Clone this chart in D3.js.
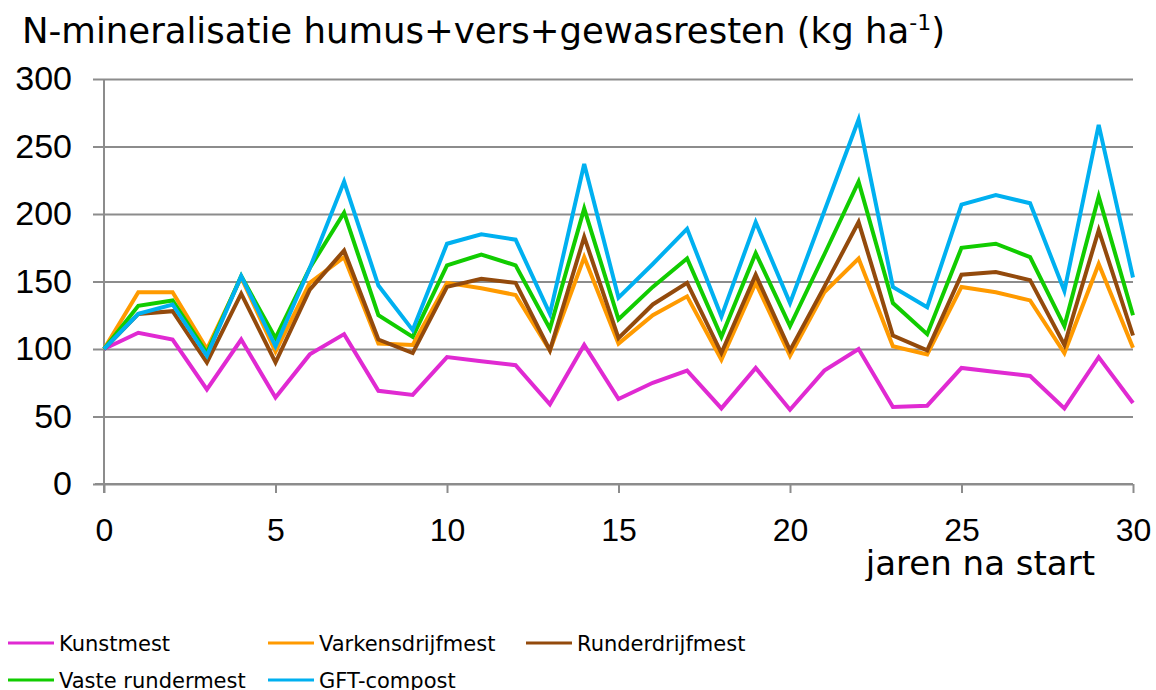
<!DOCTYPE html>
<html>
<head>
<meta charset="utf-8">
<script src="https://d3js.org/d3.v7.min.js"></script>
<style>
  body { margin: 0; background: #fff; }
  svg { font-family: "DejaVu Sans", Verdana, sans-serif; }
</style>
</head>
<body>
<div id="chart"></div>
<script>
var years = d3.range(0, 31);

var kunstmest = [100, 112, 107, 70, 107, 64, 96, 111, 69, 66, 94, 91, 88, 59, 103, 63, 75, 84, 56, 86, 55, 84, 100, 57, 58, 86, 83, 80, 56, 94, 60];
var varkensdrijfmest = [100, 142, 142, 100, 153, 98, 149, 168, 104, 103, 149, 145, 140, 99, 168, 104, 125, 139, 92, 149, 95, 142, 167, 102, 96, 146, 142, 136, 97, 163, 101];
var runderdrijfmest = [100, 126, 128, 90, 141, 90, 144, 173, 107, 97, 146, 152, 149, 99, 183, 108, 133, 149, 97, 155, 99, 146, 194, 110, 99, 155, 157, 151, 103, 188, 110];
var vasteRundermest = [100, 132, 136, 97, 154, 108, 160, 201, 125, 109, 162, 170, 162, 115, 204, 122, 146, 167, 109, 171, 117, 170, 224, 134, 111, 175, 178, 168, 117, 213, 125];
var gftCompost = [100, 126, 133, 95, 154, 102, 160, 224, 147, 114, 178, 185, 181, 126, 237, 138, 163, 189, 124, 194, 134, 202, 270, 146, 131, 207, 214, 208, 143, 266, 153];

var seriesNames = ["Kunstmest", "Varkensdrijfmest", "Runderdrijfmest", "Vaste rundermest", "GFT-compost"];
var seriesValues = [kunstmest, varkensdrijfmest, runderdrijfmest, vasteRundermest, gftCompost];
var colors = ["#E02AD2", "#FF9A00", "#934A0C", "#11CC00", "#00B0F0"];

var xTicks = [0, 5, 10, 15, 20, 25, 30];
var yTicks = [0, 50, 100, 150, 200, 250, 300];

var width = 1156, height = 690;
var svg = d3.select("#chart").append("svg")
  .attr("width", width)
  .attr("height", height);

var x = d3.scaleLinear().domain([0, 30]).range([104, 1133]);
var y = d3.scaleLinear().domain([0, 300]).range([484, 79]);

// gridlines + y axis
var yAxis = svg.append("g")
  .attr("transform", "translate(104,0)")
  .call(d3.axisLeft(y).tickValues(yTicks).tickSize(11).tickPadding(21));
yAxis.select(".domain").remove();
yAxis.selectAll(".tick line").attr("x2", 1133 - 104).attr("x1", -11)
  .attr("stroke", "#8c8c8c").attr("stroke-width", 2);
yAxis.selectAll(".tick text")
  .attr("fill", "#000").style("font-size", "34px");

// y axis line
svg.append("line")
  .attr("x1", 104).attr("x2", 104)
  .attr("y1", y(300)).attr("y2", 493)
  .attr("stroke", "#8c8c8c").attr("stroke-width", 2);

// x axis
var xAxis = svg.append("g")
  .attr("transform", "translate(0,484)")
  .call(d3.axisBottom(x).tickValues(xTicks).tickSize(9).tickPadding(48).tickSizeOuter(0));
xAxis.select(".domain").attr("stroke", "#8c8c8c").attr("stroke-width", 2)
  .attr("d", "M95,0H1133");
xAxis.selectAll(".tick line").attr("stroke", "#8c8c8c").attr("stroke-width", 2);
xAxis.selectAll(".tick text")
  .attr("fill", "#000").attr("dy", 0).style("font-size", "32px");

// lines
var line = d3.line()
  .x(function (d, i) { return x(years[i]); })
  .y(function (d) { return y(d); });

seriesValues.forEach(function (vals, i) {
  svg.append("path")
    .datum(vals)
    .attr("d", line)
    .attr("fill", "none")
    .attr("stroke", colors[i])
    .attr("stroke-width", 4)
    .attr("stroke-linejoin", "miter");
});

// title
var title = svg.append("text")
  .attr("x", 22)
  .attr("y", 43)
  .style("font-size", "35.5px")
  .attr("fill", "#000");
title.append("tspan").text("N-mineralisatie humus+vers+gewasresten (kg ha");
title.append("tspan").text("-1").attr("dy", -13).style("font-size", "22px");
title.append("tspan").text(")").attr("dy", 13);

// axis title, clipped at bottom like the original
svg.append("clipPath").attr("id", "xlabclip")
  .append("rect").attr("x", 0).attr("y", 500).attr("width", width).attr("height", 81);
svg.append("text")
  .attr("x", 1095)
  .attr("y", 575)
  .attr("text-anchor", "end")
  .attr("clip-path", "url(#xlabclip)")
  .style("font-size", "34px")
  .attr("fill", "#000")
  .text("jaren na start");

// legend
var legendPos = [[8, 643], [268, 643], [526, 643], [8, 680], [268, 680]];
var legend = svg.append("g");
seriesNames.forEach(function (name, i) {
  var p = legendPos[i];
  legend.append("line")
    .attr("x1", p[0]).attr("x2", p[0] + 46)
    .attr("y1", p[1]).attr("y2", p[1])
    .attr("stroke", colors[i]).attr("stroke-width", 3);
  legend.append("text")
    .attr("x", p[0] + 51)
    .attr("y", p[1] + 8)
    .style("font-size", "21px")
    .attr("fill", "#000")
    .text(name);
});
</script>
</body>
</html>
